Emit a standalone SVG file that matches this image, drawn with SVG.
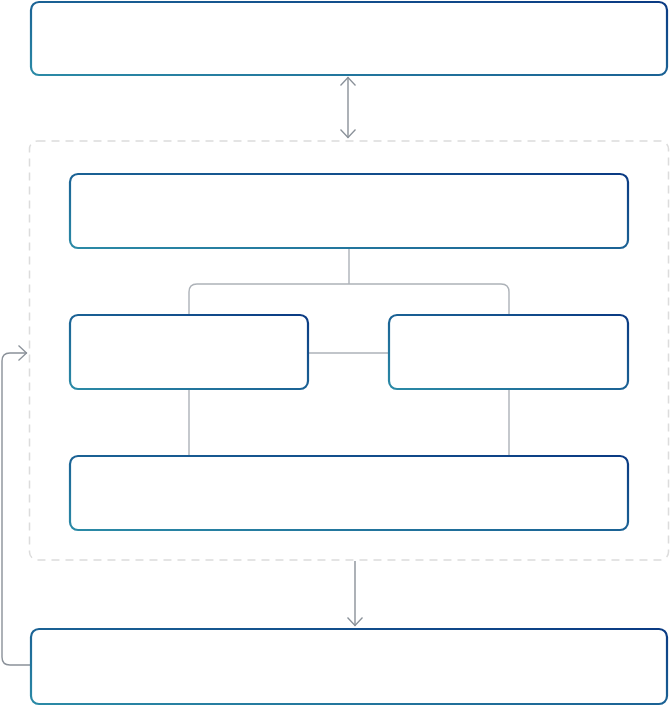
<svg xmlns="http://www.w3.org/2000/svg" width="670" height="706" viewBox="0 0 670 706">
  <defs>
    <linearGradient id="bg" x1="0" y1="1" x2="1" y2="0">
      <stop offset="0" stop-color="#2b8aa6"/>
      <stop offset="1" stop-color="#0a3a83"/>
    </linearGradient>
    <marker id="arr" viewBox="0 0 16 18" refX="9.5" refY="9" markerWidth="16" markerHeight="18" markerUnits="userSpaceOnUse" orient="auto-start-reverse">
      <path d="M1,1.5 L9,9 L1,16.5" fill="none" stroke="#8a9199" stroke-width="1.3"/>
    </marker>
  </defs>
  <style>
    .node rect { fill: #ffffff; stroke: url(#bg); stroke-width: 2.2; }
    .link { fill: none; stroke: #adb2b8; stroke-width: 1.4; }
    .arrow { fill: none; stroke: #8a9199; stroke-width: 1.4; }
    .group { fill: none; stroke: #dcdcdc; stroke-width: 1.5; stroke-dasharray: 8 6; }
  </style>
  <rect class="group" x="29.5" y="141" width="639" height="419" rx="8"/>
  <g id="connectors">
    <path class="link" d="M349,249 V284 M189,315 V292 Q189,284 197,284 H501 Q509,284 509,292 V315"/>
    <path class="link" d="M308,353 H389"/>
    <path class="link" d="M189,389 V456 M509,389 V456"/>
    <path class="arrow" d="M348,77 V138" marker-start="url(#arr)" marker-end="url(#arr)"/>
    <path class="arrow" d="M355,561 V626" marker-end="url(#arr)"/>
    <path class="arrow" d="M30,665 H10 Q2,665 2,657 V361 Q2,353 10,353 H27" marker-end="url(#arr)"/>
  </g>
  <g id="n-top" class="node"><rect x="31" y="2" width="636" height="73" rx="8"/></g>
  <g id="n-head" class="node"><rect x="70" y="174" width="558" height="74" rx="8"/></g>
  <g id="n-left" class="node"><rect x="70" y="315" width="238" height="74" rx="8"/></g>
  <g id="n-right" class="node"><rect x="389" y="315" width="239" height="74" rx="8"/></g>
  <g id="n-base" class="node"><rect x="70" y="456" width="558" height="74" rx="8"/></g>
  <g id="n-bottom" class="node"><rect x="31" y="629" width="636" height="75" rx="8"/></g>
</svg>
